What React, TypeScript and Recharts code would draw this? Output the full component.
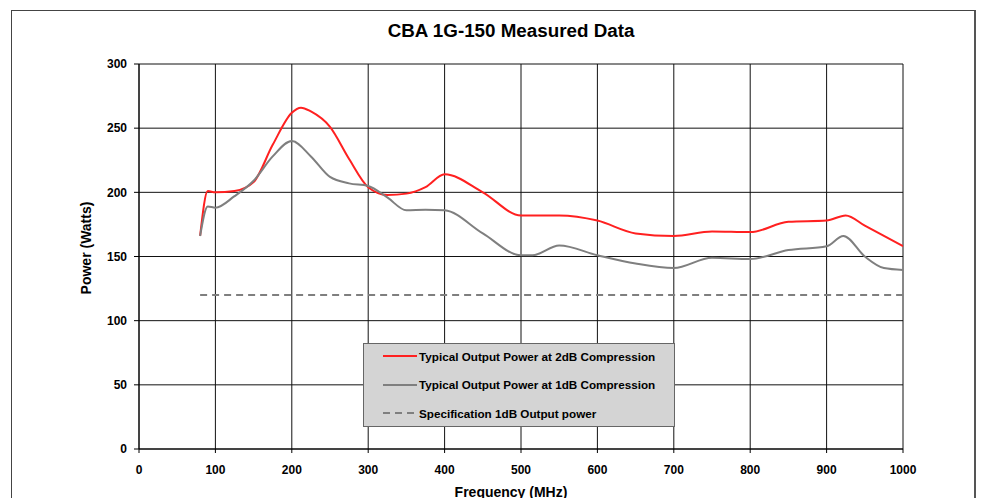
import { CartesianGrid, Label, Legend, Line, LineChart, XAxis, YAxis } from "recharts"

// frequency (MHz) / power (W)
const FREQ_2DB = [80, 90, 100, 125, 150, 175, 200, 212, 225, 250, 275, 300, 325, 350, 375, 400, 450, 500, 550, 600, 650, 700, 750, 800, 850, 900, 925, 950, 1000]
const POWER_2DB = [166, 201, 200, 201, 208, 237, 262, 266, 263, 251, 226, 204, 198, 199, 204, 214, 200, 182, 182, 178, 168, 166, 169.5, 169, 177, 178, 182, 174, 158]

const FREQ_1DB = [80, 90, 100, 125, 150, 175, 200, 225, 250, 275, 300, 325, 350, 375, 400, 450, 500, 515, 550, 600, 650, 700, 750, 800, 850, 900, 922, 950, 975, 1000]
const POWER_1DB = [166, 189, 188, 197, 209, 228, 240, 228, 212, 207, 205, 196, 186, 186.5, 186, 168, 151, 151, 158.5, 151, 144.5, 141, 149, 148, 155, 158, 166, 150, 141, 139.5]

const FREQ_SPEC = [80, 1000]
const POWER_SPEC = [120, 120]

const SERIES_NAMES = [
  "Typical Output Power at 2dB Compression",
  "Typical Output Power at 1dB Compression",
  "Specification 1dB Output power",
]

const X_TICKS = [0, 100, 200, 300, 400, 500, 600, 700, 800, 900, 1000]
const Y_TICKS = [0, 50, 100, 150, 200, 250, 300]

const FONT = "'Liberation Sans', Arial, sans-serif"

const data2db = FREQ_2DB.map((freq, i) => ({ freq, value: POWER_2DB[i] }))
const data1db = FREQ_1DB.map((freq, i) => ({ freq, value: POWER_1DB[i] }))
const dataSpec = FREQ_SPEC.map((freq, i) => ({ freq, value: POWER_SPEC[i] }))

const tickStyle = { fill: "#000", fontSize: 12, fontWeight: 700, fontFamily: FONT }

function LegendBox(props: any) {
  const items = [...(props.payload || [])].sort(
    (a: any, b: any) => SERIES_NAMES.indexOf(a.value) - SERIES_NAMES.indexOf(b.value)
  )
  return (
    <div
      style={{
        position: "relative",
        width: 312,
        height: 84,
        background: "#d4d4d4",
        border: "1px solid #666",
        boxSizing: "border-box",
        fontFamily: FONT,
        fontSize: 11.7,
        fontWeight: 700,
        color: "#000",
      }}
    >
      {items.map((it: any, i: number) => (
        <div
          key={it.value}
          style={{ position: "absolute", left: 19, top: 1 + i * 28.5, height: 22, display: "flex", alignItems: "center" }}
        >
          <svg width={34} height={4} style={{ marginRight: 2 }}>
            <line
              x1={0}
              y1={2}
              x2={34}
              y2={2}
              stroke={it.color}
              strokeWidth={it.payload?.strokeWidth ?? 2}
              strokeDasharray={it.payload?.strokeDasharray}
            />
          </svg>
          <span>{it.value}</span>
        </div>
      ))}
    </div>
  )
}

export default function App() {
  return (
    <div style={{ position: "absolute", left: 0, top: 0, width: 982, height: 498, overflow: "hidden", background: "#fff" }}>
      <div
        style={{
          position: "absolute",
          left: 11,
          top: 10,
          width: 962,
          height: 520,
          borderTop: "1px solid #444",
          borderLeft: "1px solid #444",
          borderRight: "2px solid #555",
        }}
      />
      <div
        style={{
          position: "absolute",
          left: 311,
          top: 21,
          width: 400,
          textAlign: "center",
          fontFamily: FONT,
          fontSize: 18.8,
          lineHeight: "20px",
          fontWeight: 700,
          color: "#000",
        }}
      >
        CBA 1G-150 Measured Data
      </div>
      <LineChart width={982} height={498} margin={{ top: 64, right: 79, left: 79, bottom: 19 }} style={{ position: "absolute", left: 0, top: 0 }}>
        <CartesianGrid stroke="#111" strokeWidth={1} />
        <XAxis
          type="number"
          dataKey="freq"
          domain={[0, 1000]}
          ticks={X_TICKS}
          interval={0}
          height={30}
          tick={tickStyle}
          tickSize={4}
          tickMargin={12}
          axisLine={{ stroke: "#000" }}
          tickLine={{ stroke: "#000" }}
          allowDataOverflow
        >
          <Label
            content={(p: any) => (
              <text x={p.viewBox.x + p.viewBox.width / 2 - 10} y={497} textAnchor="middle" fontFamily={FONT} fontSize={14} fontWeight={700} fill="#000">
                Frequency (MHz)
              </text>
            )}
          />
        </XAxis>
        <YAxis
          type="number"
          domain={[0, 300]}
          ticks={Y_TICKS}
          interval={0}
          width={60}
          tick={tickStyle}
          tickSize={5}
          tickMargin={7}
          axisLine={{ stroke: "#000" }}
          tickLine={{ stroke: "#000" }}
        >
          <Label
            content={() => (
              <text x={86} y={248} transform="rotate(-90 86 248)" textAnchor="middle" dominantBaseline="central" fontFamily={FONT} fontSize={14} fontWeight={700} fill="#000">
                Power (Watts)
              </text>
            )}
          />
        </YAxis>
        <Legend
          layout="vertical"
          align="center"
          verticalAlign="middle"
          content={LegendBox}
          wrapperStyle={{ left: 363, top: 343, width: 312, height: 84 }}
        />
        <Line
          data={data2db}
          dataKey="value"
          name={SERIES_NAMES[0]}
          type="monotone"
          stroke="#ff2020"
          strokeWidth={2}
          dot={false}
          isAnimationActive={false}
        />
        <Line
          data={data1db}
          dataKey="value"
          name={SERIES_NAMES[1]}
          type="monotone"
          stroke="#7f7f7f"
          strokeWidth={2}
          dot={false}
          isAnimationActive={false}
        />
        <Line
          data={dataSpec}
          dataKey="value"
          name={SERIES_NAMES[2]}
          type="linear"
          stroke="#7f7f7f"
          strokeWidth={2}
          strokeDasharray="7 5"
          dot={false}
          isAnimationActive={false}
        />
      </LineChart>
    </div>
  )
}
